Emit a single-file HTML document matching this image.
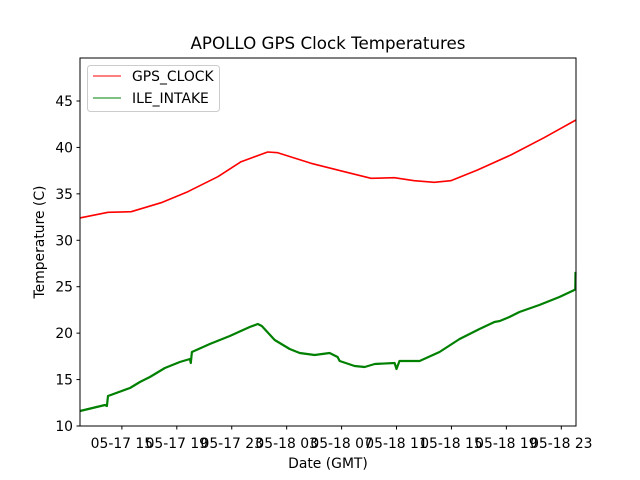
<!DOCTYPE html>
<html><head><meta charset="utf-8"><style>
body{margin:0;background:#fff}
svg{display:block;font-family:"DejaVu Sans","Liberation Sans",sans-serif}
</style></head><body>
<svg id="chart" width="640" height="480">
<rect width="640" height="480" fill="#fff"/>
<text x="328" y="49" font-size="16.7" text-anchor="middle">APOLLO GPS Clock Temperatures</text>
<g id="grid"></g>
<g id="series"></g>
<rect x="80" y="58" width="496" height="368" fill="none" stroke="#000" stroke-width="1"/>
<g id="ticks"></g>
<text x="328" y="468" font-size="13.9" text-anchor="middle">Date (GMT)</text>
<text transform="translate(44,242) rotate(-90)" font-size="13.9" text-anchor="middle">Temperature (C)</text>
<g>
<rect x="87.5" y="65.5" width="132" height="46" rx="3" fill="#fff" fill-opacity="0.8" stroke="#ccc"/>
<line x1="93" y1="76" x2="121" y2="76" stroke="red" stroke-width="1"/>
<text x="132" y="81" font-size="13.9">GPS_CLOCK</text>
<line x1="93" y1="98" x2="121" y2="98" stroke="green" stroke-width="1"/>
<text x="132" y="103" font-size="13.9">ILE_INTAKE</text>
</g>
</svg>
<script>
const xTickHours=[15,19,23,27,31,35,39,43,47];
const xTickLabels=["05-17 15","05-17 19","05-17 23","05-18 03","05-18 07","05-18 11","05-18 15","05-18 19","05-18 23"];
const yTicks=[10,15,20,25,30,35,40,45];
const gpsHours=[11.95,12.04,13.99,15.68,17.86,19.8,21.99,23.68,25.62,26.35,28.77,31.2,33.14,34.84,36.29,37.75,38.95,40.9,43.32,45.75,47.93,48.07];
const gpsTemps=[32.4,32.43,33.01,33.08,34.05,35.23,36.85,38.46,39.51,39.43,38.29,37.39,36.67,36.74,36.42,36.24,36.42,37.57,39.18,41.05,42.85,42.95];
const ileHours=[11.95,13.77,13.91,13.99,15.59,16.31,17.04,18.13,19.22,19.95,20.02,20.1,21.4,22.86,24.31,24.9,25.19,26.13,27.22,27.95,29.04,30.13,30.71,30.86,31.95,32.68,33.41,34.86,35.0,35.22,36.68,38.13,39.59,41.04,42.13,42.5,43.22,43.95,45.4,46.86,47.95,48.02,48.03];
const ileTemps=[11.62,12.26,12.15,13.23,14.09,14.74,15.28,16.25,16.89,17.21,16.78,17.97,18.83,19.69,20.66,20.98,20.77,19.26,18.29,17.86,17.65,17.86,17.43,17.0,16.46,16.35,16.68,16.78,16.14,17.0,17.0,17.97,19.37,20.45,21.2,21.3,21.74,22.28,23.03,23.89,24.65,24.75,26.6];
const X0=80,X1=576,Y0=426,Y1=58,HMIN=11.95,HMAX=48.07,TMIN=10,TMAX=49.63;
function sx(h){return X0+(h-HMIN)/(HMAX-HMIN)*(X1-X0);}
function sy(t){return Y0-(t-TMIN)/(TMAX-TMIN)*(Y0-Y1);}
const NS="http://www.w3.org/2000/svg";
const ticks=document.getElementById('ticks');
xTickHours.forEach((h,i)=>{
 const l=document.createElementNS(NS,'line');
 l.setAttribute('x1',sx(h));l.setAttribute('x2',sx(h));l.setAttribute('y1',426);l.setAttribute('y2',429.5);l.setAttribute('stroke','#000');
 
 
 ticks.appendChild(l);
 const t=document.createElementNS(NS,'text');
 t.setAttribute('x',sx(h));t.setAttribute('y',448);t.setAttribute('font-size','13.9');t.setAttribute('text-anchor','middle');
 t.textContent=xTickLabels[i];
 
 
 ticks.appendChild(t);
});
yTicks.forEach(v=>{
 const l=document.createElementNS(NS,'line');
 l.setAttribute('x1',76.5);l.setAttribute('x2',80);l.setAttribute('y1',sy(v));l.setAttribute('y2',sy(v));l.setAttribute('stroke','#000');
 
 
 ticks.appendChild(l);
 const t=document.createElementNS(NS,'text');
 t.setAttribute('x',73);t.setAttribute('y',sy(v)+5);t.setAttribute('font-size','13.9');t.setAttribute('text-anchor','end');
 t.textContent=v;
 
 
 ticks.appendChild(t);
});
const series=document.getElementById('series');
function line(hs,ts,color,name,w){
 const p=document.createElementNS(NS,'polyline');
 p.setAttribute('points',hs.map((h,i)=>sx(h).toFixed(1)+','+sy(ts[i]).toFixed(1)).join(' '));
 p.setAttribute('fill','none');p.setAttribute('stroke',color);p.setAttribute('stroke-width',w);p.setAttribute('stroke-linejoin','round');
 
 
 series.appendChild(p);
}
line(gpsHours,gpsTemps,'red','gps-clock-line',1.6);
line(ileHours,ileTemps,'green','ile-intake-line',2.2);
</script>
</body></html>
